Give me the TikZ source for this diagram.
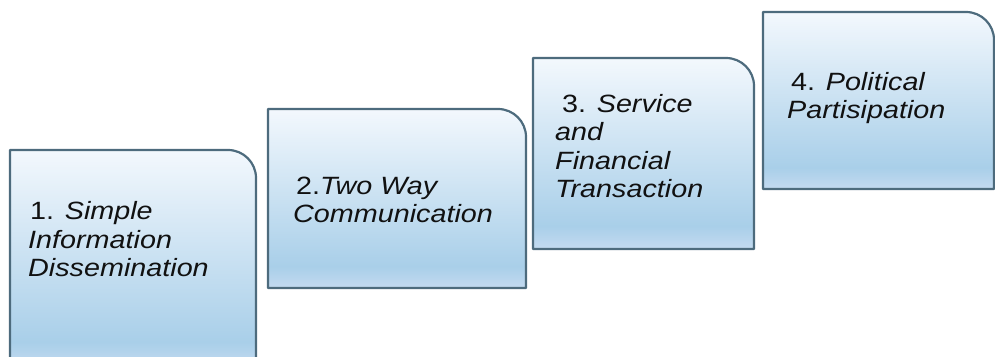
\documentclass[tikz,border=0pt]{standalone}
\usepackage{fontspec}
\setmainfont{Liberation Sans}
\newfontfamily\stepfont[FakeStretch=1.15]{Liberation Sans}

\definecolor{stepEdge}{HTML}{4D6B7D}
\definecolor{stepTop}{HTML}{F3F8FD}
\definecolor{stepMid}{HTML}{A9CFE9}
\definecolor{stepBot}{HTML}{C4DAF0}
\definecolor{stepInk}{HTML}{111111}

% light at the top, blue towards the bottom, a lighter band at the foot
\pgfdeclareverticalshading{stepshade}{100bp}{%
  color(0bp)=(stepBot); color(25bp)=(stepBot); color(31bp)=(stepMid);
  color(75bp)=(stepTop); color(100bp)=(stepTop)}

\tikzset{
  stepbox/.style={draw=stepEdge, line width=2.2pt, shading=stepshade, line join=round},
  % a multi-line node's base anchor sits on its last line
  steptext/.style={anchor=base west, inner sep=0pt, align=left, text=stepInk,
    font=\stepfont\fontsize{25}{28.5}\selectfont},
}

\begin{document}
\begin{tikzpicture}[x=1pt,y=1pt]
  \useasboundingbox (0,0) rectangle (995,356);
  \clip (0,0) rectangle (995,356);

  % the four steps, each with a rounded upper right corner
  \path[stepbox] (10,-12) -- (10,206) -- (228,206)
    arc[start angle=90,end angle=0,radius=28] -- (256,-12) -- cycle;
  \path[stepbox] (268,68) -- (268,247) -- (498,247)
    arc[start angle=90,end angle=0,radius=28] -- (526,68) -- cycle;
  \path[stepbox] (533,107) -- (533,298) -- (726,298)
    arc[start angle=90,end angle=0,radius=28] -- (754,107) -- cycle;
  \path[stepbox] (763,167) -- (763,344) -- (966,344)
    arc[start angle=90,end angle=0,radius=28] -- (994,167) -- cycle;

  % step labels
  \node[steptext] (s1) at (28,79)
    {\hspace*{2pt}1. \textit{Simple}\\\textit{Information}\\\textit{Dissemination}};
  \node[steptext] (s2) at (293,133)
    {\hspace*{3pt}2.\textit{Two Way}\\\textit{Communication}};
  \node[steptext] (s3) at (555,158)
    {\hspace*{7pt}3. \textit{Service}\\\textit{and}\\\textit{Financial}\\\textit{Transaction}};
  \node[steptext] (s4) at (787,237)
    {\hspace*{4pt}4. \textit{Political}\\\textit{Partisipation}};
\end{tikzpicture}
\end{document}
